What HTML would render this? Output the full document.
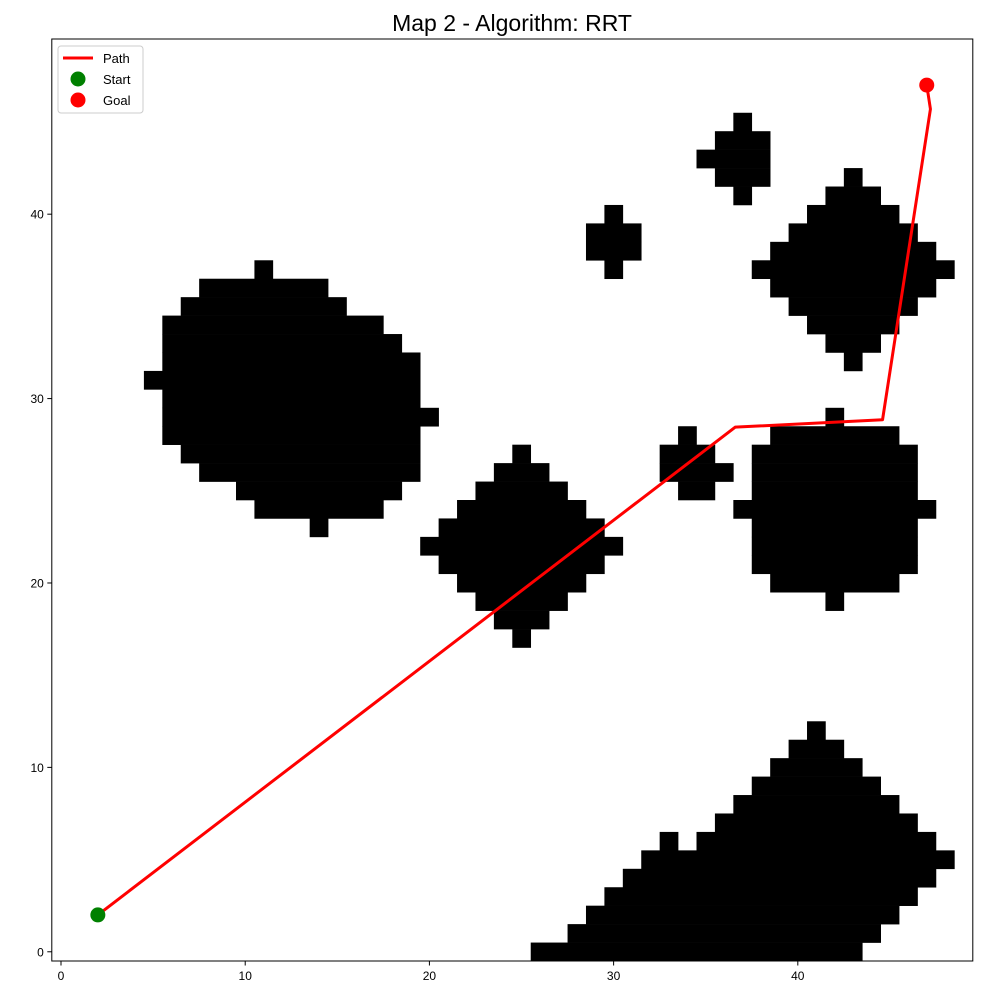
<!DOCTYPE html>
<html><head><meta charset="utf-8"><style>
html,body{margin:0;padding:0;background:#fff;width:1000px;height:1000px;overflow:hidden}
svg text{font-family:"Liberation Sans","DejaVu Sans",sans-serif}
</style></head><body>
<svg id="chart" width="1000" height="1000" xmlns="http://www.w3.org/2000/svg">
<rect width="1000" height="1000" fill="#fff"/>
<text x="512" y="31" font-size="23" text-anchor="middle">Map 2 - Algorithm: RRT</text>
<g id="cells"></g>
<g id="path"></g>
<rect x="51.8" y="39" width="921" height="922" fill="none" stroke="#000" stroke-width="1"/>
<g id="ticks"></g>
<g>
<rect x="58" y="46" width="85" height="67" rx="3" fill="#fff" stroke="#ccc"/>
<line x1="63" y1="58" x2="93" y2="58" stroke="red" stroke-width="3"/>
<text x="103" y="63" font-size="13">Path</text>
<circle cx="78" cy="79" r="7.5" fill="green"/>
<text x="103" y="84" font-size="13">Start</text>
<circle cx="78" cy="100" r="7.5" fill="red"/>
<text x="103" y="105" font-size="13">Goal</text>
</g>
</svg>
<script>
// obstacle runs: [row, colStart, colEnd]
const obstacleRuns = [
[37,11,11],[36,8,14],[35,7,15],[34,6,17],[33,6,18],[32,6,19],[31,5,19],[30,6,19],[29,6,20],[28,6,19],[27,7,19],[26,8,19],[25,10,18],[24,11,17],[23,14,14],
[27,25,25],[26,24,26],[25,23,27],[24,22,28],[23,21,29],[22,20,30],[21,21,29],[20,22,28],[19,23,27],[18,24,26],[17,25,25],
[28,34,34],[27,33,35],[26,33,36],[25,34,35],
[29,42,42],[28,39,45],[27,38,46],[26,38,46],[25,38,46],[24,37,47],[23,38,46],[22,38,46],[21,38,46],[20,39,45],[19,42,42],
[12,41,41],[11,40,42],[10,39,43],[9,38,44],[8,37,45],[7,36,46],[6,33,33],[6,35,47],[5,32,48],[4,31,47],[3,30,46],[2,29,45],[1,28,44],[0,26,43],
[40,30,30],[39,29,31],[38,29,31],[37,30,30],
[45,37,37],[44,36,38],[43,35,38],[42,36,38],[41,37,37],
[42,43,43],[41,42,44],[40,41,45],[39,40,46],[38,39,47],[37,38,48],[36,39,47],[35,40,46],[34,41,45],[33,42,44],[32,43,43]
];
const pathX = [2, 36.6, 44.6, 47.2, 47];
const pathY = [2, 28.45, 28.85, 45.7, 47];
const startPt = [2, 2];
const goalPt = [47, 47];
const xTicks = [0, 10, 20, 30, 40];
const yTicks = [0, 10, 20, 30, 40];

const NS = "http://www.w3.org/2000/svg";
const L = 51.8, R = 972.8, T = 39, B = 961;
const sx = v => L + (v + 0.5) * (R - L) / 50;
const sy = v => B - (v + 0.5) * (B - T) / 50;
const cw = (R - L) / 50, ch = (B - T) / 50;

const cells = document.getElementById('cells');
obstacleRuns.forEach(([r, c0, c1]) => {
  const el = document.createElementNS(NS, 'rect');
  
  
  el.setAttribute('x', sx(c0 - 0.5));
  el.setAttribute('y', sy(r + 0.5));
  el.setAttribute('width', (c1 - c0 + 1) * cw + 0.3);
  el.setAttribute('height', ch + 0.3);
  el.setAttribute('fill', '#000');
  cells.appendChild(el);
});

const pg = document.getElementById('path');
const pl = document.createElementNS(NS, 'polyline');


pl.setAttribute('points', pathX.map((x, i) => sx(x) + ',' + sy(pathY[i])).join(' '));
pl.setAttribute('fill', 'none');
pl.setAttribute('stroke', 'red');
pl.setAttribute('stroke-width', '3');
pl.setAttribute('stroke-linejoin', 'round');
pg.appendChild(pl);
const st = document.createElementNS(NS, 'circle');


st.setAttribute('cx', sx(startPt[0])); st.setAttribute('cy', sy(startPt[1]));
st.setAttribute('r', 7.5); st.setAttribute('fill', 'green');
pg.appendChild(st);
const gl = document.createElementNS(NS, 'circle');


gl.setAttribute('cx', sx(goalPt[0])); gl.setAttribute('cy', sy(goalPt[1]));
gl.setAttribute('r', 7.5); gl.setAttribute('fill', 'red');
pg.appendChild(gl);

const tg = document.getElementById('ticks');
xTicks.forEach(v => {
  const ln = document.createElementNS(NS, 'line');
  
  
  ln.setAttribute('x1', sx(v)); ln.setAttribute('x2', sx(v));
  ln.setAttribute('y1', B); ln.setAttribute('y2', B + 4.5);
  ln.setAttribute('stroke', '#000');
  tg.appendChild(ln);
  const t = document.createElementNS(NS, 'text');
  
  
  t.setAttribute('x', sx(v)); t.setAttribute('y', B + 19);
  t.setAttribute('font-size', '12'); t.setAttribute('text-anchor', 'middle');
  t.textContent = v;
  tg.appendChild(t);
});
yTicks.forEach(v => {
  const ln = document.createElementNS(NS, 'line');
  
  
  ln.setAttribute('x1', L - 4.5); ln.setAttribute('x2', L);
  ln.setAttribute('y1', sy(v)); ln.setAttribute('y2', sy(v));
  ln.setAttribute('stroke', '#000');
  tg.appendChild(ln);
  const t = document.createElementNS(NS, 'text');
  
  
  t.setAttribute('x', L - 8); t.setAttribute('y', sy(v) + 4.5);
  t.setAttribute('font-size', '12'); t.setAttribute('text-anchor', 'end');
  t.textContent = v;
  tg.appendChild(t);
});
</script>
</body></html>
